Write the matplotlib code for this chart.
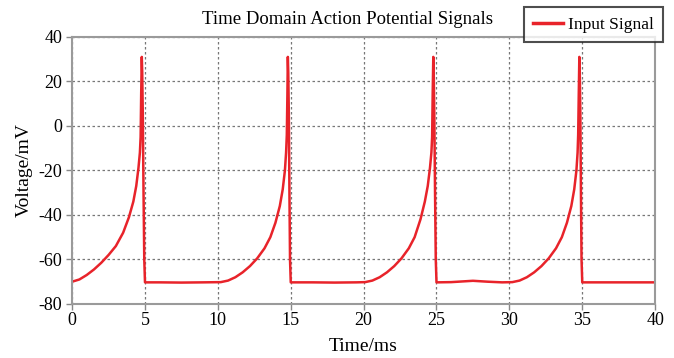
import matplotlib
matplotlib.use("Agg")
import matplotlib.pyplot as plt

# Time (ms) and voltage (mV)
time_ms = [
    0.0, 0.5, 1.0, 1.5, 2.0, 2.5, 3.0, 3.5, 3.9, 4.2, 4.4, 4.55, 4.65, 4.7, 4.74, 4.78, 4.81, 4.85, 4.9, 4.95, 5.0,
    6.0, 7.5, 9.0, 10.2,
    10.7, 11.2, 11.7, 12.2, 12.7, 13.2, 13.6, 13.95, 14.25, 14.45, 14.6, 14.68, 14.73, 14.77, 14.8, 14.83, 14.87, 14.91, 14.95, 15.0,
    16.5, 18.0, 19.5, 20.1,
    20.6, 21.1, 21.6, 22.1, 22.6, 23.1, 23.5, 23.9, 24.2, 24.4, 24.55, 24.65, 24.7, 24.74, 24.78, 24.81, 24.85, 24.9, 24.95, 25.0,
    26.0, 27.0, 27.5, 28.5, 29.5, 30.2,
    30.7, 31.2, 31.7, 32.2, 32.7, 33.2, 33.6, 33.95, 34.25, 34.45, 34.6, 34.68, 34.72, 34.76, 34.8, 34.83, 34.87, 34.91, 34.95, 35.0,
    37.0, 39.0, 40.0,
]
voltage_mv = [
    -70.0, -69.0, -67.0, -64.5, -61.5, -58.0, -54.0, -48.0, -41.0, -34.0, -27.0, -19.0, -12.0, -5.0, 15.0, 31.0, 24.0, 5.0, -30.0, -60.0, -70.3,
    -70.3, -70.4, -70.3, -70.2,
    -69.5, -68.0, -65.8, -63.0, -59.5, -55.0, -50.0, -43.5, -36.0, -28.5, -20.0, -12.0, -4.0, 14.0, 31.0, 24.0, 5.0, -30.0, -60.0, -70.3,
    -70.3, -70.4, -70.3, -70.2,
    -69.5, -68.0, -65.8, -63.0, -59.5, -55.0, -50.0, -42.0, -34.0, -27.0, -19.0, -12.0, -5.0, 15.0, 31.0, 24.0, 5.0, -30.0, -60.0, -70.3,
    -70.2, -69.8, -69.6, -70.0, -70.3, -70.2,
    -69.5, -68.0, -65.8, -63.0, -59.5, -55.0, -50.0, -43.5, -36.0, -28.5, -20.0, -12.0, -4.0, 14.0, 31.0, 24.0, 5.0, -30.0, -60.0, -70.3,
    -70.3, -70.3, -70.3,
]
x_ticks = [0, 5, 10, 15, 20, 25, 30, 35, 40]
y_ticks = [-80, -60, -40, -20, 0, 20, 40]

plt.rcParams['font.family'] = ['Liberation Serif', 'DejaVu Serif']
plt.rcParams['axes.unicode_minus'] = False

fig = plt.figure(figsize=(6.74, 3.58), dpi=100)
ax = fig.add_axes([0.107, 0.151, 0.865, 0.746])

ax.plot(time_ms, voltage_mv, color='#e8232a', lw=1.8, label='Input Signal')

ax.set_xlim(0, 40)
ax.set_ylim(-80, 40)
ax.set_xticks(x_ticks)
ax.set_yticks(y_ticks)
ax.tick_params(labelsize=13, length=4, width=1, color='#888888', direction='out')
ax.tick_params(axis='y', pad=3)
ax.tick_params(axis='x', pad=2)
ax.grid(True, linestyle=(0, (2, 2)), color='#777777', linewidth=0.9)

for side in ['left', 'top', 'right', 'bottom']:
    ax.spines[side].set_color('#9a9a9a')
    ax.spines[side].set_linewidth(1.5)

ax.set_xlabel('Time/ms', fontsize=14, labelpad=6)
ax.set_ylabel('Voltage/mV', fontsize=14, labelpad=4)
fig.text(0.515, 0.945, 'Time Domain Action Potential Signals', fontsize=13.5,
         ha='center', va='center')

leg = ax.legend(loc='upper right', bbox_to_anchor=(0.984, 0.98),
                bbox_transform=fig.transFigure, fontsize=12.5, frameon=True,
                fancybox=False, handlelength=1.7, handletextpad=0.3,
                borderpad=0.55, borderaxespad=0)
leg.get_frame().set_edgecolor('#222222')
leg.get_frame().set_linewidth(1.5)
leg.get_lines()[0].set_linewidth(2.5)

fig.savefig('out.png', dpi=100)
